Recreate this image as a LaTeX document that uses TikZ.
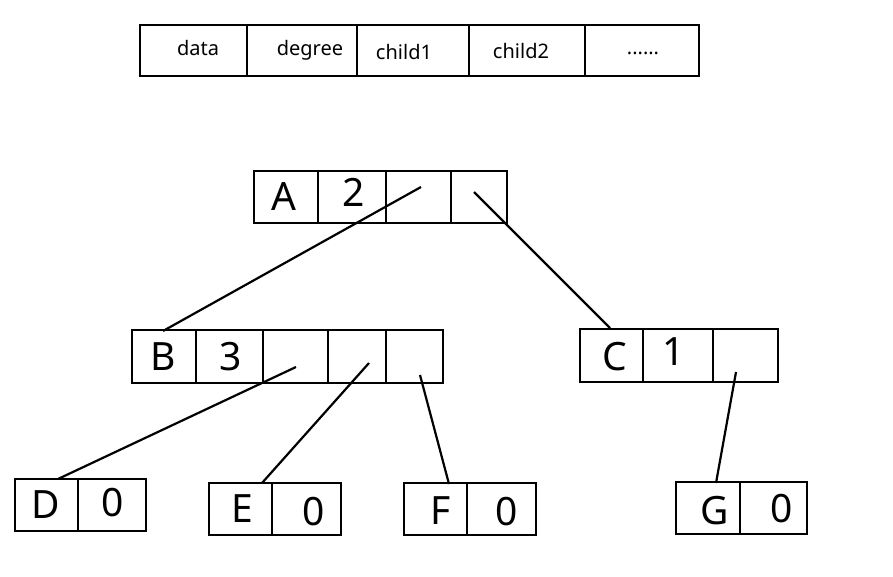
\documentclass[tikz,border=0pt]{standalone}
\usepackage{fontspec}
\setmainfont{Noto Sans}
\begin{document}
\begin{tikzpicture}[x=1pt,y=-1pt,
  cell/.style={draw, line width=2.8pt, rectangle, inner sep=0pt, outer sep=0pt},
  big/.style={inner sep=0pt, text height=29.5pt, text depth=10pt, font=\fontsize{39}{42}\selectfont},
  small/.style={inner sep=0pt, text height=15pt, text depth=5pt, font=\fontsize{20}{24}\selectfont},
  link/.style={line width=2.2pt}]
\useasboundingbox (0,0) rectangle (893,577);
% header
\node[cell, minimum width=107pt, minimum height=51pt] (h1) at (193.5,50.5) {};
\node[cell, minimum width=110pt, minimum height=51pt] (h2) at (302,50.5) {};
\node[cell, minimum width=112pt, minimum height=51pt] (h3) at (413,50.5) {};
\node[cell, minimum width=116pt, minimum height=51pt] (h4) at (527,50.5) {};
\node[cell, minimum width=114pt, minimum height=51pt] (h5) at (642,50.5) {};
\node[small] (t1) at (198,51) {data};
\node[small] (t2) at (310,51) {degree};
\node[small] (t3) at (404,55) {child1};
\node[small] (t4) at (521,54) {child2};
\node[small] (t5) at (643,50) {......};
% A
\node[cell, minimum width=64pt, minimum height=52pt] (a1) at (286,197) {};
\node[cell, minimum width=68pt, minimum height=52pt] (a2) at (352,197) {};
\node[cell, minimum width=65pt, minimum height=52pt] (a3) at (418.5,197) {};
\node[cell, minimum width=56pt, minimum height=52pt] (a4) at (479,197) {};
\node[big] (la) at (284,201) {A};
\node[big] (na) at (354,197) {2};
% B
\node[cell, minimum width=64pt, minimum height=53pt] (b1) at (164,356.5) {};
\node[cell, minimum width=67pt, minimum height=53pt] (b2) at (229.5,356.5) {};
\node[cell, minimum width=65pt, minimum height=53pt] (b3) at (295.5,356.5) {};
\node[cell, minimum width=58pt, minimum height=53pt] (b4) at (357,356.5) {};
\node[cell, minimum width=57pt, minimum height=53pt] (b5) at (414.5,356.5) {};
\node[big] (lb) at (163,361) {B};
\node[big] (nb) at (231,361) {3};
% C
\node[cell, minimum width=63pt, minimum height=53pt] (c1) at (611.5,355.5) {};
\node[cell, minimum width=70pt, minimum height=53pt] (c2) at (678,355.5) {};
\node[cell, minimum width=65pt, minimum height=53pt] (c3) at (745.5,355.5) {};
\node[big] (lc) at (615,361) {C};
\node[big] (nc) at (674,356) {1};
% D
\node[cell, minimum width=63pt, minimum height=52pt] (d1) at (46.5,505) {};
\node[cell, minimum width=68pt, minimum height=52pt] (d2) at (112,505) {};
\node[big] (ld) at (46,509) {D};
\node[big] (nd) at (113,507) {0};
% E
\node[cell, minimum width=63pt, minimum height=52pt] (e1) at (240.5,509) {};
\node[cell, minimum width=69pt, minimum height=52pt] (e2) at (306.5,509) {};
\node[big] (le) at (242,513) {E};
\node[big] (ne) at (314,516) {0};
% F
\node[cell, minimum width=63pt, minimum height=52pt] (f1) at (435.5,509) {};
\node[cell, minimum width=69pt, minimum height=52pt] (f2) at (501.5,509) {};
\node[big] (lf) at (441,515) {F};
\node[big] (nf) at (507,516) {0};
% G
\node[cell, minimum width=64pt, minimum height=52pt] (g1) at (708,508) {};
\node[cell, minimum width=67pt, minimum height=52pt] (g2) at (773.5,508) {};
\node[big] (lg) at (715,515) {G};
\node[big] (ng) at (782,513) {0};
% connector end points
\coordinate (pa3) at (421,187);
\coordinate (pa4) at (474,192);
\coordinate (pb3) at (296,367);
\coordinate (pb4) at (369,363);
\coordinate (pb5) at (420,375);
\coordinate (pc3) at (736,372);
\coordinate (qb) at (163,331);
\coordinate (qc) at (610,328);
\coordinate (qd) at (58,479);
\coordinate (qe) at (262,483);
\coordinate (qf) at (449,484);
\coordinate (qg) at (716,483);
\draw[link] (pa3) -- (qb);
\draw[link] (pa4) -- (qc);
\draw[link] (pb3) -- (qd);
\draw[link] (pb4) -- (qe);
\draw[link] (pb5) -- (qf);
\draw[link] (pc3) -- (qg);
\end{tikzpicture}
\end{document}
